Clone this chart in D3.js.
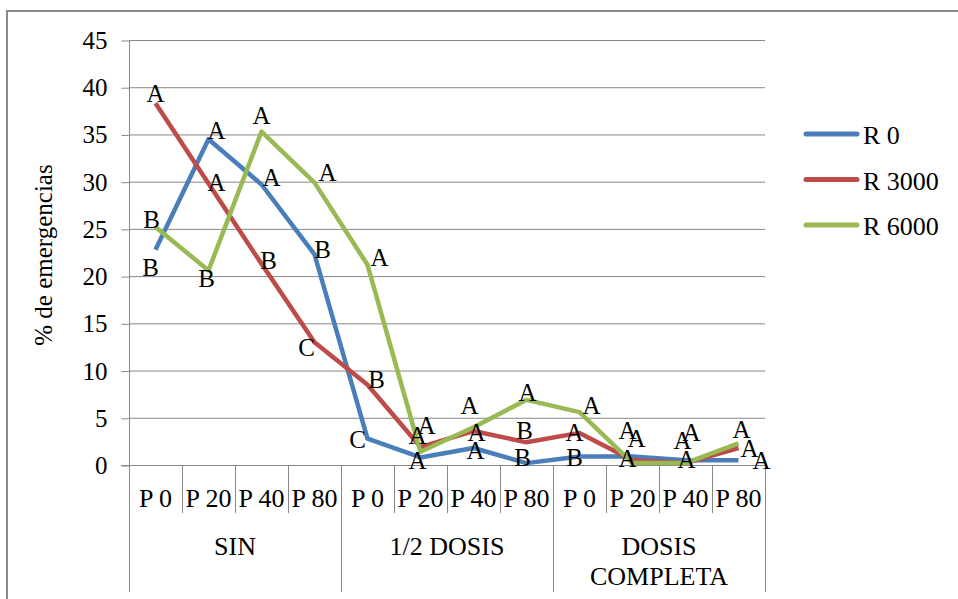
<!DOCTYPE html>
<html>
<head>
<meta charset="utf-8">
<script src="https://cdn.jsdelivr.net/npm/d3@7"></script>
<style>
	body { margin: 0; background: #fff; }
	svg { display: block; }
	svg text { font-family: "Liberation Serif", "Times New Roman", Tinos, "DejaVu Serif", serif !important; fill: #000; }
</style>
</head>
<body>
<svg id="chart" width="958" height="599"></svg>
<script>
const groupNames = [ 'SIN', '1/2 DOSIS', 'DOSIS COMPLETA' ];
const subNames = [ 'P 0', 'P 20', 'P 40', 'P 80' ];
const seriesNames = [ 'R 0', 'R 3000', 'R 6000' ];
const yTicks = [ 0, 5, 10, 15, 20, 25, 30, 35, 40, 45 ];

const r0Values = [ 22.8, 34.5, 29.7, 22.3, 2.8, 0.8, 1.8, 0.2, 0.9, 0.9, 0.5, 0.5 ];
const r3000Values = [ 38.3, 29.8, 21.3, 13.0, 8.5, 1.9, 3.6, 2.4, 3.4, 0.5, 0.2, 1.8 ];
const r6000Values = [ 25.2, 20.6, 35.3, 29.9, 21.2, 1.4, 4.0, 6.9, 5.6, 0.2, 0.2, 2.3 ];

const r0Letters = [ 'B', 'A', 'A', 'B', 'C', 'A', 'A', 'B', 'B', 'A', 'A', 'A' ];
const r3000Letters = [ 'A', 'A', 'B', 'C', 'B', 'A', 'A', 'B', 'A', 'A', 'A', 'A' ];
const r6000Letters = [ 'B', 'B', 'A', 'A', 'A', 'A', 'A', 'A', 'A', 'A', 'A', 'A' ];

const ChartRenderer = {
	colours: [ '#4a7ebb', '#be4b48', '#98b954' ],
	gridColour: '#888888',
	fontFamily: '"Liberation Serif", "Times New Roman", Tinos, "DejaVu Serif", serif',

	// where each letter sits relative to its point (dx, dy of text centre)
	letterOffsets: [
		[ [-5,18], [8,-9], [10,-7], [8,-5], [-10,1], [-3,3], [2,2], [-4,-6], [-5,1], [-5,2], [1,-1], [23,0] ],
		[ [0,-10], [8,-1], [7,-3], [-8,5], [9,-5], [-3,-12], [3,1], [-2,-12], [-5,0], [4,-22], [-3,-23], [11,0] ],
		[ [-4,-8], [-2,8], [0,-16], [13,-10], [12,-7], [6,-26], [-4,-22], [1,-7], [12,-7], [-5,-33], [6,-31], [3,-14] ]
	],

	draw: function() {
		const self = ChartRenderer;
		let svg = d3.select('#chart');
		let categoryIds = d3.range(groupNames.length * subNames.length);
		let allSeries = [ r0Values, r3000Values, r6000Values ];
		let allLetters = [ r0Letters, r3000Letters, r6000Letters ];

		svg.style('font-family', self.fontFamily);

		let xScale = d3.scaleBand()
			.domain(categoryIds)
			.range([ 129, 765 ]);
		let yScale = d3.scaleLinear()
			.domain([ 0, 45 ])
			.range([ 465, 40 ]);
		let xCentre = function(i) { return xScale(i) + xScale.bandwidth() / 2; };

		// outer frame
		svg.append('rect')
			.attr('x', 7).attr('y', 11)
			.attr('width', 980).attr('height', 620)
			.style('fill', 'none')
			.style('stroke', '#8a8a8a')
			.style('stroke-width', 2);

		// gridlines
		svg.append('g')
			.selectAll('line')
			.data(yTicks.filter(function(d) { return d > 0; }))
			.join('line')
			.attr('x1', 129).attr('x2', 765)
			.attr('y1', function(d) { return yScale(d) + 0.5; })
			.attr('y2', function(d) { return yScale(d) + 0.5; })
			.style('stroke', self.gridColour)
			.style('stroke-width', 1);

		// y axis
		let yAxis = d3.axisLeft(yScale)
			.tickValues(yTicks)
			.tickSize(8)
			.tickPadding(14);
		let yAxisGroup = svg.append('g')
			.attr('transform', 'translate(129.5,0.5)')
			.call(yAxis)
			.attr('font-family', null)
			.attr('font-size', null);
		yAxisGroup.select('.domain').remove();
		yAxisGroup.selectAll('line').style('stroke', self.gridColour);
		yAxisGroup.selectAll('text')
			.style('font-size', '25px');
		svg.append('line')
			.attr('x1', 129.5).attr('x2', 129.5)
			.attr('y1', 40).attr('y2', 592)
			.style('stroke', self.gridColour);
		svg.append('line')
			.attr('x1', 121).attr('x2', 765)
			.attr('y1', 465.5).attr('y2', 465.5)
			.style('stroke', self.gridColour);

		svg.append('text')
			.attr('transform', 'translate(52,255) rotate(-90)')
			.attr('text-anchor', 'middle')
			.style('font-size', '25px')
			.text('% de emergencias');

		// category boundaries
		let boundaries = d3.range(1, categoryIds.length + 1);
		svg.append('g')
			.selectAll('line')
			.data(boundaries)
			.join('line')
			.attr('x1', function(d) { return xScale(d - 1) + xScale.bandwidth() + 0.5; })
			.attr('x2', function(d) { return xScale(d - 1) + xScale.bandwidth() + 0.5; })
			.attr('y1', 465)
			.attr('y2', function(d) { return (d % subNames.length == 0) ? 592 : 513; })
			.style('stroke', self.gridColour);

		svg.append('g')
			.selectAll('text')
			.data(categoryIds)
			.join('text')
			.attr('x', xCentre)
			.attr('y', 507)
			.attr('text-anchor', 'middle')
			.style('font-size', '26px')
			.text(function(d) { return subNames[d % subNames.length]; });

		// group labels (the last one wraps onto two lines)
		let groupWidth = xScale.bandwidth() * subNames.length;
		let groupLabels = svg.append('g')
			.selectAll('text')
			.data(groupNames)
			.join('text')
			.attr('x', function(d, i) { return xScale(i * subNames.length) + groupWidth / 2; })
			.attr('y', 555)
			.attr('text-anchor', 'middle')
			.style('font-size', '26px');
		groupLabels.each(function(d) {
			let words = (d == 'DOSIS COMPLETA') ? [ 'DOSIS', 'COMPLETA' ] : [ d ];
			let textEl = d3.select(this);
			let x = textEl.attr('x');
			words.forEach(function(w, j) {
				textEl.append('tspan')
					.attr('x', x)
					.attr('dy', j == 0 ? 0 : 30)
					.text(w);
			});
		});

		// series lines
		let line = d3.line()
			.x(function(d, i) { return xCentre(i); })
			.y(function(d) { return yScale(d); });

		svg.append('g')
			.selectAll('path')
			.data(allSeries)
			.join('path')
			.attr('d', line)
			.style('fill', 'none')
			.style('stroke', function(d, i) { return self.colours[i]; })
			.style('stroke-width', 4.5)
			.style('stroke-linejoin', 'round');

		// significance letters
		allSeries.forEach(function(values, s) {
			svg.append('g')
				.selectAll('text')
				.data(values)
				.join('text')
				.attr('x', function(d, i) { return xCentre(i) + self.letterOffsets[s][i][0]; })
				.attr('y', function(d, i) { return yScale(d) + self.letterOffsets[s][i][1] + 8.5; })
				.attr('text-anchor', 'middle')
				.style('font-size', '25px')
				.text(function(d, i) { return allLetters[s][i]; });
		});

		// legend
		let legendRows = svg.append('g')
			.selectAll('g')
			.data(seriesNames)
			.join('g')
			.attr('transform', function(d, i) { return 'translate(0,' + (134 + i * 45.5) + ')'; });
		legendRows.append('line')
			.attr('x1', 806).attr('x2', 857)
			.attr('y1', 0).attr('y2', 0)
			.style('stroke', function(d, i) { return self.colours[i]; })
			.style('stroke-width', 5)
			.style('stroke-linecap', 'round');
		legendRows.append('text')
			.attr('x', 863)
			.attr('y', 10)
			.style('font-size', '26px')
			.text(function(d) { return d; });
	}
}

ChartRenderer.draw();
</script>
</body>
</html>
